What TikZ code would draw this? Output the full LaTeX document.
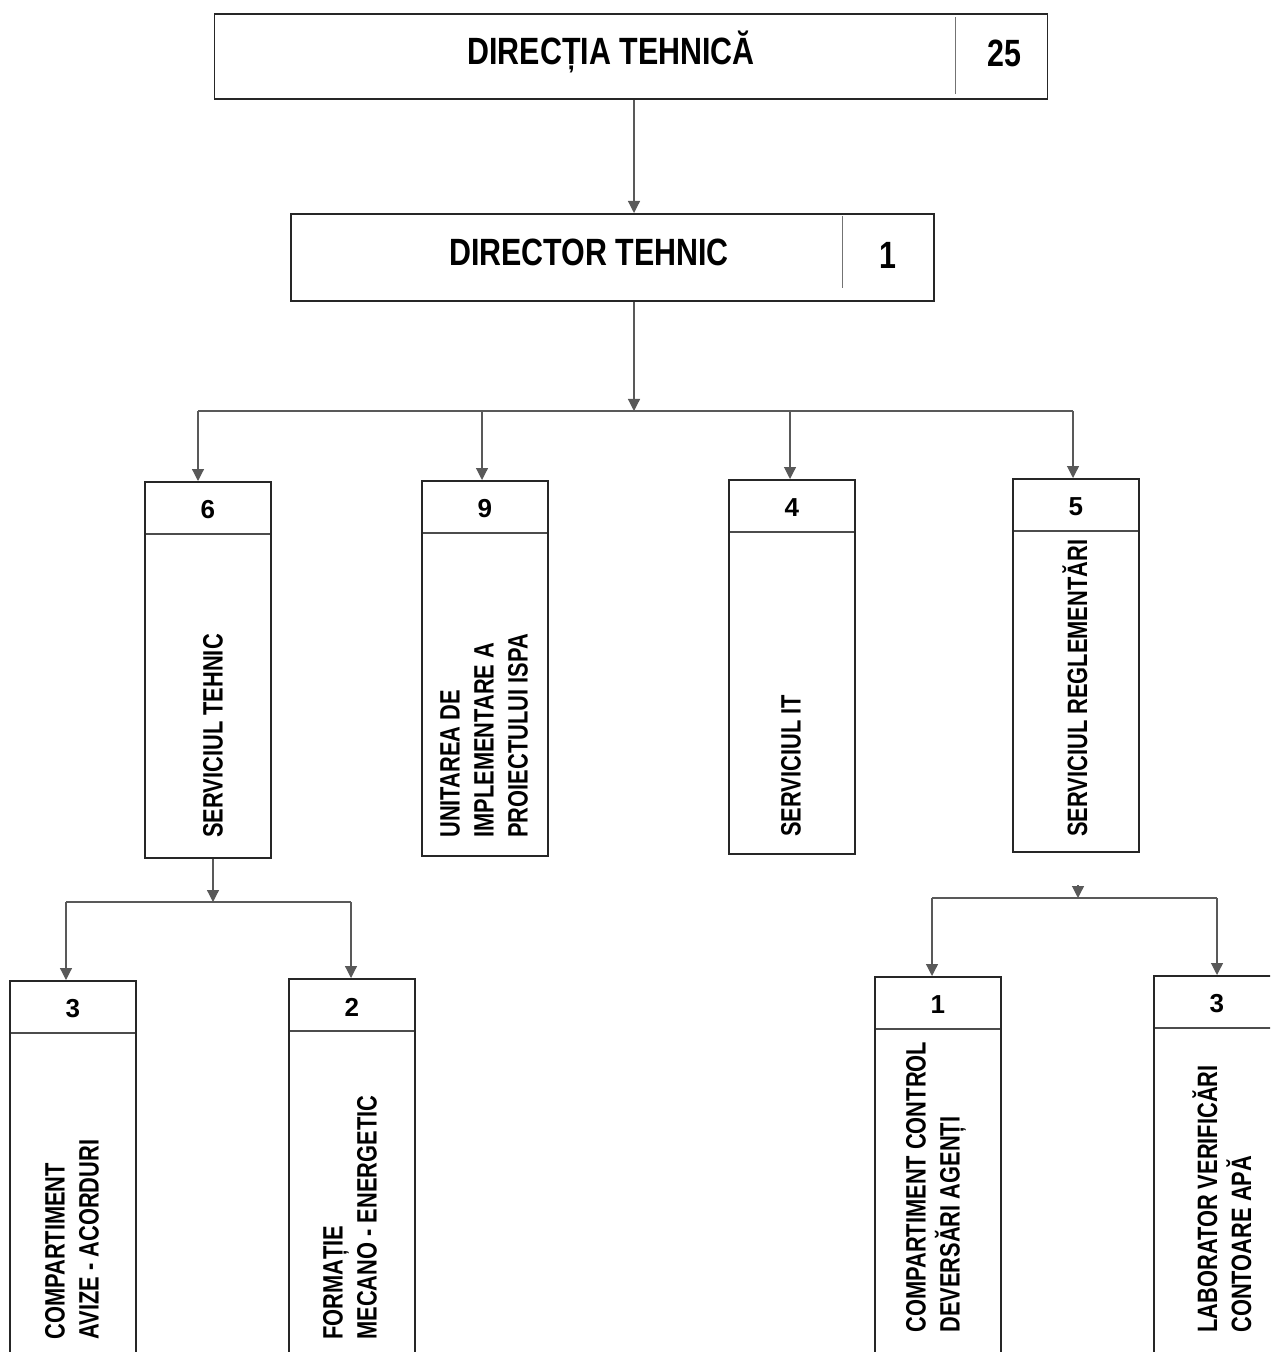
\documentclass[tikz,border=0pt]{standalone}
\usepackage{fontspec}
\setmainfont{Liberation Sans}
\newfontfamily\cond[FakeStretch=0.8]{Liberation Sans}
\newfontfamily\condv[FakeStretch=0.78]{Liberation Sans}
\usetikzlibrary{arrows.meta,calc}
\tikzset{
  box/.style={draw=black!85, line width=0.9pt, inner sep=0pt, anchor=north west},
  hbox/.style={box, minimum width=63pt,
    path picture={\draw[black!70, line width=0.6pt]
      ([yshift=-26pt]path picture bounding box.north west) --
      ([yshift=-26pt]path picture bounding box.north east);}},
  conn/.style={draw=black!65, line width=0.6pt},
  arr/.style={conn, -{Triangle[width=6pt,length=6pt]}},
  divider/.style={draw=black!55, line width=0.5pt},
  vtext/.style={rotate=90, anchor=west, inner sep=0pt, align=left,
    font=\condv\bfseries\fontsize{14}{17}\selectfont},
  numtext/.style={inner sep=0pt, font=\bfseries\fontsize{13}{15}\selectfont},
  titletext/.style={inner sep=0pt, font=\cond\bfseries\fontsize{19}{22}\selectfont}
}
\begin{document}
\begin{tikzpicture}[x=0.5pt,y=-0.5pt]
\useasboundingbox (0,0) rectangle (1270,1352);
\clip (0,0) rectangle (1270,1352);

% top box
\node[box, minimum width=416.5pt, minimum height=42.5pt] (dir) at (213.5,13.5) {};
\draw[divider] ($(dir.north west)+(742,4)$) -- ($(dir.south west)+(742,-6)$);
\node[titletext] (dirt) at (611,52) {DIRECȚIA TEHNICĂ};
\node[titletext] (dirn) at (1004,53) {25};

% director
\node[box, minimum width=321.5pt, minimum height=43.5pt] (dt) at (290,213) {};
\draw[divider] ($(dt.north west)+(552,3)$) -- ($(dt.south west)+(552,-14)$);
\node[titletext] (dtt) at (589,252) {DIRECTOR TEHNIC};
\node[titletext] (dtn) at (888,255) {1};

\coordinate (a1) at (634,0);
\draw[arr] (a1 |- dir.south) -- (a1 |- dt.north);
\coordinate (bar) at (634,411);
\draw[arr] (a1 |- dt.south) -- (bar);

% services
\node[hbox, minimum height=188pt] (s6) at (144,481) {};
\node[hbox, minimum height=187.5pt] (s9) at (421,480) {};
\node[hbox, minimum height=187pt] (s4) at (728,479) {};
\node[hbox, minimum height=186.5pt] (s5) at (1012,478) {};

\coordinate (c6) at (198,411);
\coordinate (c9) at (482,411);
\coordinate (c4) at (790,411);
\coordinate (c5) at (1073,411);
\draw[conn] (c6) -- (c5);
\draw[arr] (c6) -- (c6 |- s6.north);
\draw[arr] (c9) -- (c9 |- s9.north);
\draw[arr] (c4) -- (c4 |- s4.north);
\draw[arr] (c5) -- (c5 |- s5.north);

\node[numtext] (n6) at ($(s6.north)+(0,29)$) {6};
\node[numtext] (n9) at ($(s9.north)+(0,29)$) {9};
\node[numtext] (n4) at ($(s4.north)+(0,29)$) {4};
\node[numtext] (n5) at ($(s5.north)+(0,29)$) {5};

\node[vtext] (t6) at (213,838) {SERVICIUL TEHNIC};
\node[vtext] (t9) at (484,838) {UNITAREA DE\\IMPLEMENTARE A\\PROIECTULUI ISPA};
\node[vtext] (t4) at (791,837) {SERVICIUL IT};
\node[vtext] (t5) at (1075,837) {SERVICIUL REGLEMENTĂRI};

% sub-branch of serviciul tehnic
\coordinate (d6) at (213,902);
\draw[arr] (d6 |- s6.south) -- (d6);
\coordinate (dA) at (66,902);
\coordinate (dB) at (351,902);
\draw[conn] (dA) -- (dB);
\node[hbox, minimum height=200pt] (cA) at (9,980) {};
\node[hbox, minimum height=200pt] (cB) at (288,978) {};
\draw[arr] (dA) -- (dA |- cA.north);
\draw[arr] (dB) -- (dB |- cB.north);
\node[numtext] (nA) at ($(cA.north)+(0,29)$) {3};
\node[numtext] (nB) at ($(cB.north)+(0,29)$) {2};
\node[vtext] (tA) at (72,1340) {COMPARTIMENT\\AVIZE - ACORDURI};
\node[vtext] (tB) at (350,1340) {FORMAȚIE\\MECANO - ENERGETIC};

% sub-branch of serviciul reglementari
\coordinate (e5) at (1078,898);
\coordinate (e5s) at (1078,885);
\draw[arr] (e5s) -- (e5);
\coordinate (eC) at (932,898);
\coordinate (eD) at (1217,898);
\draw[conn] (eC) -- (eD);
\node[hbox, minimum height=200pt] (cC) at (874,976) {};
\node[hbox, minimum height=200pt] (cD) at (1153,975) {};
\draw[arr] (eC) -- (eC |- cC.north);
\draw[arr] (eD) -- (eD |- cD.north);
\node[numtext] (nC) at ($(cC.north)+(0,29)$) {1};
\node[numtext] (nD) at ($(cD.north)+(0,29)$) {3};
\node[vtext] (tC) at (936,1333) {COMPARTIMENT CONTROL\\DEVERSĂRI AGENȚI};
\node[vtext] (tD) at (1222,1333) {LABORATOR VERIFICĂRI\\CONTOARE APĂ};
\end{tikzpicture}
\end{document}
